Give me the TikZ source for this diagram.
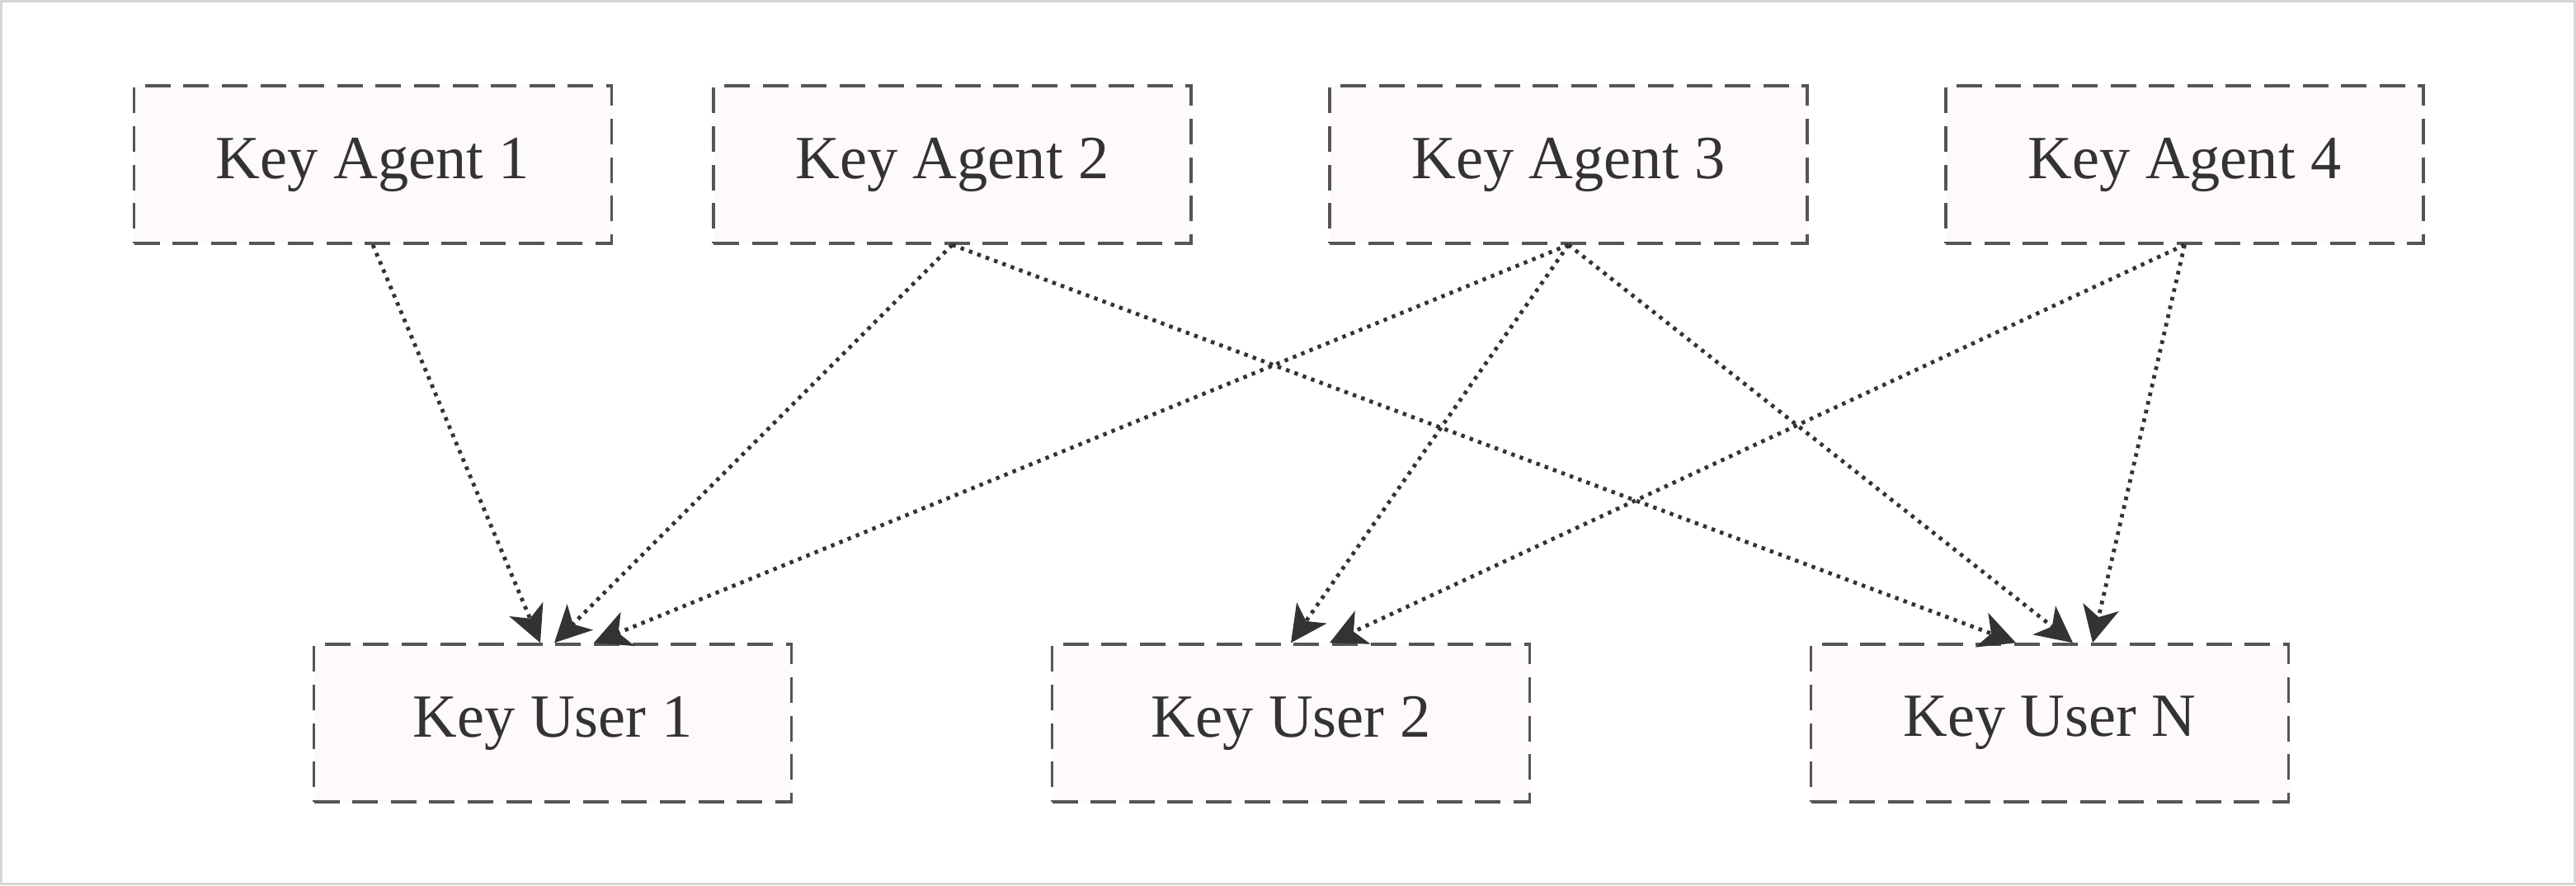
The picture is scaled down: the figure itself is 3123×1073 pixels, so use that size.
\documentclass[tikz,border=0pt]{standalone}
\usepackage{fontspec}
\setmainfont{Liberation Serif}
\usetikzlibrary{arrows.meta,calc}
\definecolor{boxfill}{HTML}{FFFAFA}
\definecolor{boxline}{HTML}{555555}
\definecolor{inkc}{HTML}{333333}
\definecolor{frame}{HTML}{D6D6D6}
\begin{document}
\begin{tikzpicture}[x=0.25pt,y=-0.25pt,
  keybox/.style={draw=boxline, fill=boxfill, line width=0.9pt,
    dash pattern=on 7.75pt off 3.9pt, minimum width=144.75pt, minimum height=47.75pt,
    inner sep=0pt, text=inkc, font=\fontsize{18.6}{22}\selectfont},
  flow/.style={draw=inkc, line width=1.2pt, dash pattern=on 1.1pt off 1.6pt,
    -{Stealth[length=11pt,width=11pt,inset=3pt]}}]
\useasboundingbox (0,0) rectangle (3123,1073);
\fill[white] (0,0) rectangle (3123,1073);
\draw[frame, line width=0.7pt] (1.5,1.5) rectangle (3121.5,1071.5);

\node[keybox] (a1) at (452,199.5) {Key Agent 1};
\node[keybox] (a2) at (1154.5,199.5) {Key Agent 2};
\node[keybox] (a3) at (1901.5,199.5) {Key Agent 3};
\node[keybox] (a4) at (2648.5,199.5) {Key Agent 4};

\node[keybox] (u1) at (670,876.5) {Key User 1};
\node[keybox] (u2) at (1565,876.5) {Key User 2};
\node[keybox] (un) at (2485,876.5) {Key User N};

\coordinate (t11) at ($(u1.north)+(-15,0)$);
\coordinate (t21) at ($(u1.north)+(2,0)$);
\coordinate (t31) at ($(u1.north)+(50,0)$);
\coordinate (t32) at ($(u2.north)+(0,0)$);
\coordinate (t42) at ($(u2.north)+(47,0)$);
\coordinate (t2n) at ($(un.north)+(-41,0)$);
\coordinate (t3n) at ($(un.north)+(28,0)$);
\coordinate (t4n) at ($(un.north)+(52,0)$);

\draw[flow] (a1.south) -- (t11);
\draw[flow] (a2.south) -- (t21);
\draw[flow] (a3.south) -- (t31);
\draw[flow] (a3.south) -- (t32);
\draw[flow] (a4.south) -- (t42);
\draw[flow] (a2.south) -- (t2n);
\draw[flow] (a3.south) -- (t3n);
\draw[flow] (a4.south) -- (t4n);
\end{tikzpicture}
\end{document}
